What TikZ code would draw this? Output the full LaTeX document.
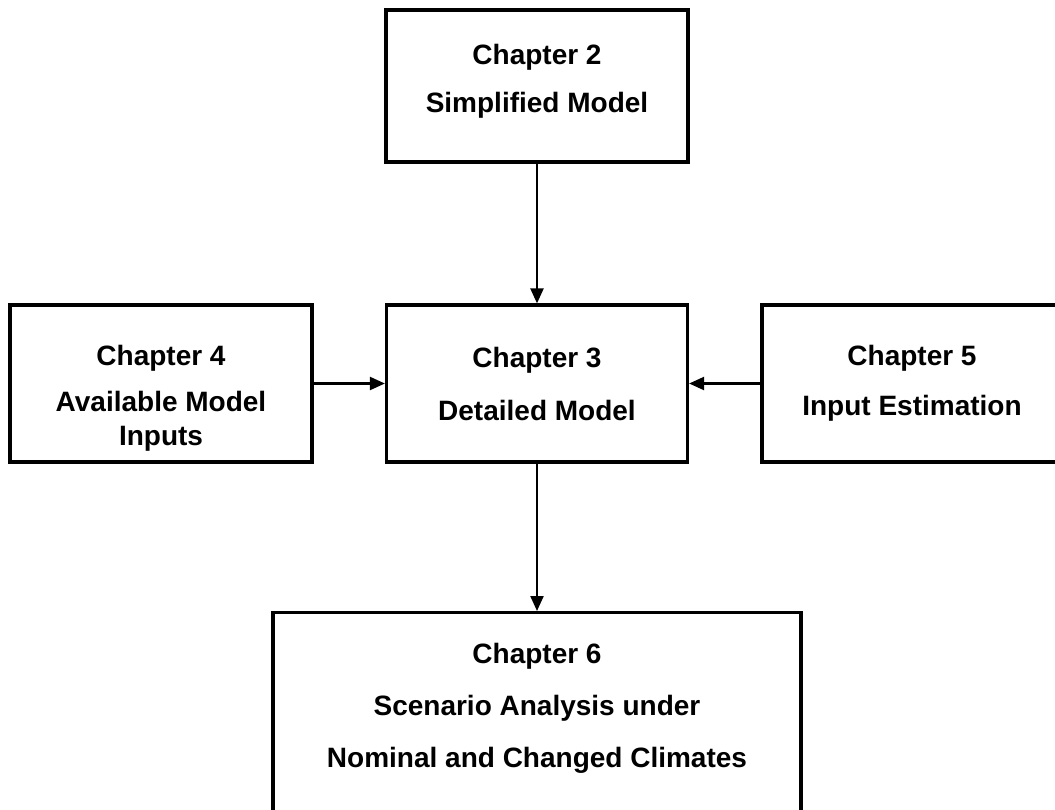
\documentclass[tikz,border=0pt]{standalone}
\usepackage{fontspec}
\setmainfont{Liberation Sans}
\usetikzlibrary{arrows.meta}
\begin{document}
\begin{tikzpicture}[x=1pt,y=-1pt,
  chapbox/.style={draw,line width=3.2pt,align=center,inner sep=0pt,
    font=\fontsize{28}{34}\selectfont\bfseries},
  chaptext/.style={align=center,inner sep=0pt,font=\fontsize{28}{34}\selectfont\bfseries},
  link/.style={-{Triangle[length=15pt,width=13pt]},line width=2.2pt}]
\useasboundingbox (0,0) rectangle (1055,809);

% Chapter boxes
\node[chapbox,minimum width=302pt,minimum height=152pt,text depth=16pt] (ch2) at (537,86) {Chapter 2\\[14pt]Simplified Model};
\node[chapbox,minimum width=301pt,minimum height=157pt] (ch3) at (537,383.5) {Chapter 3\\[19pt]Detailed Model};
\node[chapbox,minimum width=300pt,minimum height=157pt] (ch5) at (912,383.5) {Chapter 5\\[16pt]Input Estimation};

% Box with text set lower
\node[chapbox,minimum width=302pt,minimum height=157pt] (ch4) at (161,383.5) {};
\node[chaptext] (ch4text) at (161,398) {Chapter 4\\[12pt]Available Model\\Inputs};

% Last box runs off the page
\node[chapbox,anchor=north,minimum width=528pt,minimum height=240pt] (ch6) at (537,611) {};
\node[chaptext] (ch6text) at (537,708) {Chapter 6\\[18pt]Scenario Analysis under\\[18pt]Nominal and Changed Climates};

% Arrows
\draw[link] (ch2) -- (ch3);
\draw[link] (ch4) -- (ch3);
\draw[link] (ch5) -- (ch3);
\draw[link] (ch3) -- (ch6);
\end{tikzpicture}
\end{document}
